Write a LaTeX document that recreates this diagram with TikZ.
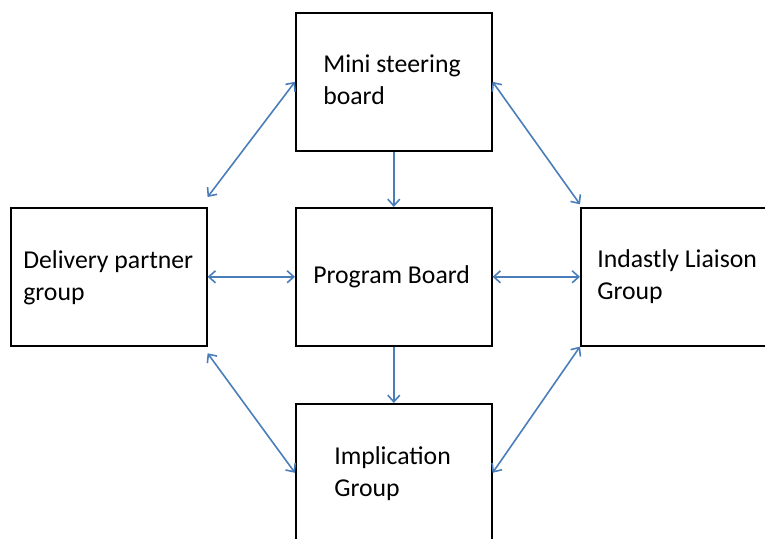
\documentclass[tikz,border=0pt]{standalone}
\usepackage{fontspec}
\setmainfont{Carlito}
\usetikzlibrary{arrows.meta}
\definecolor{linkblue}{RGB}{74,126,187}
\begin{document}
\begin{tikzpicture}[x=0.75pt,y=-0.75pt,
    box/.style={draw,line width=1.2pt,minimum width=147pt,minimum height=103.5pt,anchor=north west},
    txt/.style={anchor=base west,align=left,inner sep=0pt,font=\fontsize{19.3}{23.3}\selectfont},
    conn/.style={linkblue,line width=1.2pt},
    >={Straight Barb[length=5pt,width=9pt]}]
\clip (0,0) rectangle (765,539);
% boxes
\node[box] (mini) at (295,12) {};
\node[box] (dlv) at (10,207) {};
\node[box] (prog) at (295,207) {};
\node[box] (liai) at (580,207) {};
\node[box] (impl) at (295,403) {};
% texts (anchored at last baseline)
\node[txt] (tmini) at (323,104) {Mini steering\\board};
\node[txt] (tdlv) at (23,300) {Delivery partner\\group};
\node[txt] (tprog) at (313,283) {Program Board};
\node[txt] (tliai) at (597,299) {Indastly Liaison\\Group};
\node[txt] (timpl) at (334,496) {Implication\\Group};
% links
\draw[conn,<->] ([yshift=7.5pt]dlv.north east) -- (mini.west);
\draw[conn,<->] (mini.east) -- ([yshift=2pt]liai.north west);
\draw[conn,<->] (dlv.east) -- (prog.west);
\draw[conn,<->] (prog.east) -- (liai.west);
\draw[conn,->] (mini.south) -- (prog.north);
\draw[conn,->] (prog.south) -- (impl.north);
\draw[conn,<->] ([yshift=-5pt]dlv.south east) -- (impl.west);
\draw[conn,<->] (impl.east) -- (liai.south west);
\end{tikzpicture}
\end{document}
